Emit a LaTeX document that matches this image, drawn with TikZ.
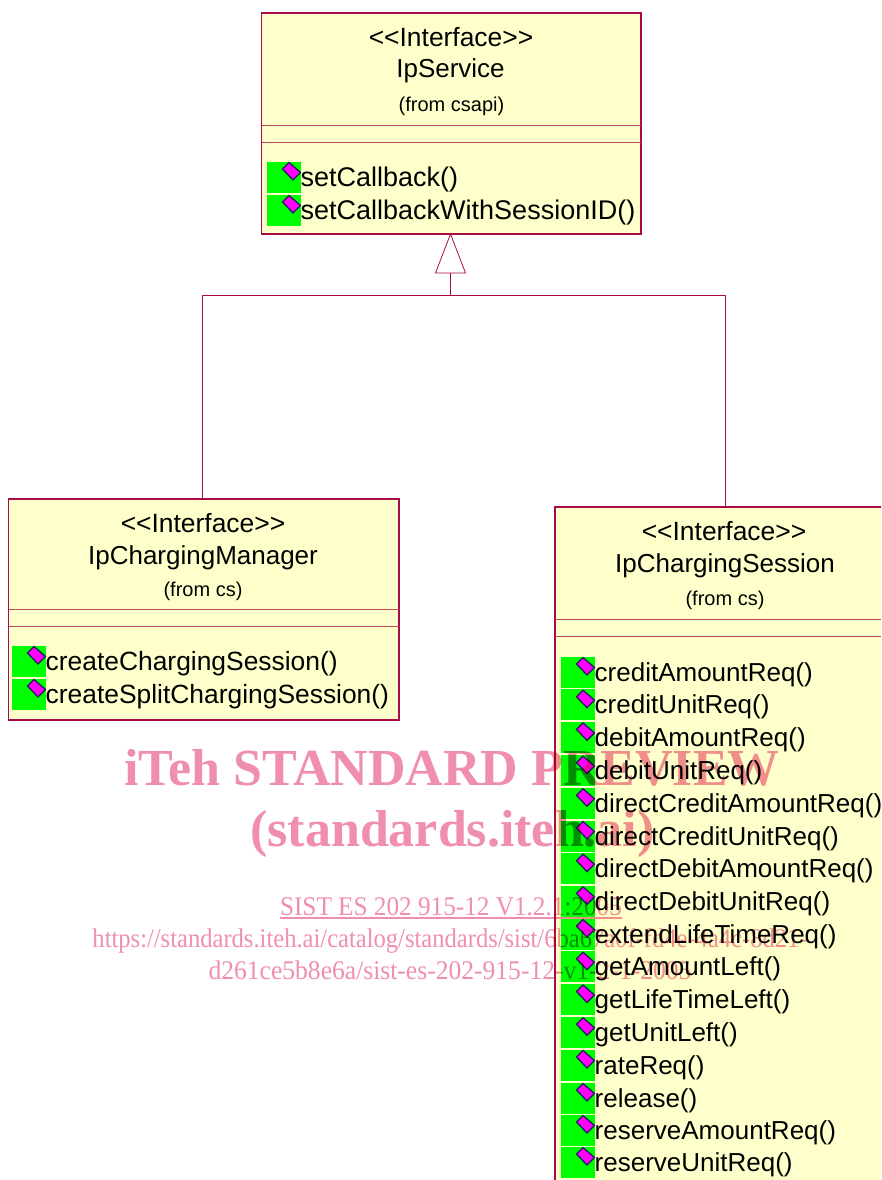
\documentclass[tikz,border=0pt]{standalone}
\usepackage{graphicx}
\usepackage{fontspec}
\setmainfont{Liberation Sans}
\newfontfamily\wmfont{Liberation Serif}
\usetikzlibrary{shapes.geometric}
\definecolor{boxfill}{HTML}{FFFFCB}
\definecolor{boxline}{HTML}{A80B45}
\definecolor{sepline}{HTML}{B5485F}
\definecolor{wmpink}{HTML}{F08FAD}
\definecolor{icongreen}{HTML}{00FF00}
\definecolor{iconpink}{HTML}{FF00FF}
\definecolor{iconedge}{HTML}{20205A}
\tikzset{
  classbox/.style={draw=boxline,line width=1.2pt,fill=boxfill,rectangle,inner sep=0pt,outer sep=0pt},
  sep/.style={draw=sepline,line width=0.8pt},
  conn/.style={draw=boxline,line width=0.7pt},
  stereo/.style={inner sep=0pt,font=\fontsize{26.4}{26}\selectfont},
  cname/.style={inner sep=0pt,font=\fontsize{26}{26}\selectfont},
  from/.style={inner sep=0pt,font=\fontsize{20}{20}\selectfont},
  method/.style={inner sep=0pt,anchor=base west,font=\fontsize{26}{26}\selectfont},
  gen/.style={draw=boxline,line width=0.8pt,fill=white,isosceles triangle,isosceles triangle apex angle=42,
    isosceles triangle stretches,shape border rotate=90,minimum height=39pt,minimum width=30pt,inner sep=0pt,outer sep=0pt},
  wmbig/.style={inner sep=0pt,text=wmpink,font=\wmfont\bfseries\fontsize{52}{52}\selectfont},
  wmsmall/.style={inner sep=0pt,text=wmpink,font=\wmfont\fontsize{27}{27}\selectfont},
}
\newcommand{\methodrow}[5][26]{%
  \fill[icongreen] (#2,#3-24.5) rectangle (#2+34,#3+6.5);
  \draw[iconedge,line width=1.3pt,fill=iconpink,line join=miter] (#2+15.5,#3-17) -- (#2+22,#3-23.5) -- (#2+33.5,#3-13.5) -- (#2+26,#3-6) -- cycle;
  \node[method,font=\fontsize{#1}{#1}\selectfont] (#5) at (#2+33.5,#3) {#4};
}
\begin{document}
\begin{tikzpicture}[x=1pt,y=-1pt]
\useasboundingbox (0,0) rectangle (881,1180);
\clip (0,0) rectangle (881,1180);
\fill[white] (0,0) rectangle (881,1180);
% boxes
\node[classbox,anchor=north west,minimum width=379.5pt,minimum height=221pt] (svc) at (261.5,13) {};
\node[classbox,anchor=north west,minimum width=390.5pt,minimum height=221pt] (mgr) at (8.5,499) {};
\node[classbox,anchor=north west,minimum width=340pt,minimum height=720pt] (ses) at (555,507) {};
% separators
\draw[sep] (262,125.5) -- (641,125.5) (262,142) -- (641,142);
\draw[sep] (9,609.5) -- (399,609.5) (9,626.5) -- (399,626.5);
\draw[sep] (555,619) -- (881,619) (555,636) -- (881,636);
% IpService
\node[stereo] (s1) at (451,37) {<{}<Interface>{}>};
\node[cname] (s2) at (450.5,71) {IpService};
\node[from] (s3) at (451.5,106) {(from csapi)};
\methodrow[27]{267}{186}{setCallback()}{s4}
\methodrow[27]{267}{219}{setCallbackWithSessionID()}{s5}
% IpChargingManager
\node[stereo] (m1) at (203,523) {<{}<Interface>{}>};
\node[cname] (m2) at (203,558) {IpChargingManager};
\node[from] (m3) at (203,591) {(from cs)};
\methodrow[26.4]{12}{670}{createChargingSession()}{m4}
\methodrow[26.4]{12}{703}{createSplitChargingSession()}{m5}
% IpChargingSession
\node[stereo] (c1) at (724,531) {<{}<Interface>{}>};
\node[cname] (c2) at (725,566) {IpChargingSession};
\node[from] (c3) at (725,600) {(from cs)};
\methodrow{561}{681}{creditAmountReq()}{r1}
\methodrow{561}{713.7}{creditUnitReq()}{r2}
\methodrow{561}{746.4}{debitAmountReq()}{r3}
\methodrow{561}{779.6}{debitUnitReq()}{r4}
\methodrow{561}{812.3}{directCreditAmountReq()}{r5}
\methodrow{561}{845}{directCreditUnitReq()}{r6}
\methodrow{561}{877.7}{directDebitAmountReq()}{r7}
\methodrow{561}{910.4}{directDebitUnitReq()}{r8}
\methodrow{561}{943.1}{extendLifeTimeReq()}{r9}
\methodrow{561}{975.8}{getAmountLeft()}{r10}
\methodrow{561}{1008.5}{getLifeTimeLeft()}{r11}
\methodrow{561}{1041.2}{getUnitLeft()}{r12}
\methodrow{561}{1074}{rateReq()}{r13}
\methodrow{561}{1107}{release()}{r14}
\methodrow{561}{1139}{reserveAmountReq()}{r15}
\methodrow{561}{1171}{reserveUnitReq()}{r16}
% generalization
\node[gen,anchor=apex] (tri) at (450.5,234) {};
\coordinate (bus) at (450.5,296);
\draw[conn] (tri.south) -- (bus);
\draw[conn] (mgr.north -| 202,0) -- (202,295.5) -- (725.5,295.5) -- (ses.north -| 725.5,0);
% watermark
\begin{scope}[blend mode=multiply]
\node[wmbig,anchor=base] (w1) at (452,785) {iTeh STANDARD PREVIEW};
\node[wmbig,anchor=base] (w2) at (452.5,846) {(standards.iteh.ai)};
\node[wmsmall,anchor=base] (w3) at (451,915) {\scalebox{0.934}[1]{SIST ES 202 915-12 V1.2.1:2005}};
\draw[wmpink,line width=1.2pt] (w3.base west |- 0,918) -- (w3.base east |- 0,918);
\node[wmsmall,anchor=base] (w4) at (450,947) {\scalebox{0.91}[1]{https://standards.iteh.ai/catalog/standards/sist/6ba67a0f-fd4e-4a4c-8d21-}};
\node[wmsmall,anchor=base] (w5) at (450,979) {\scalebox{0.947}[1]{d261ce5b8e6a/sist-es-202-915-12-v1-2-1-2005}};
\end{scope}
\end{tikzpicture}
\end{document}
